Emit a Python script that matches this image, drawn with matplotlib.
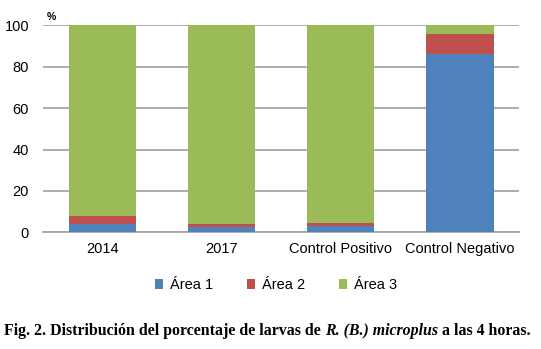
import numpy as np
import matplotlib.pyplot as plt

categories = ['2014', '2017', 'Control Positivo', 'Control Negativo']
area1 = [4.0, 2.6, 3.2, 85.9]
area2 = [4.0, 1.6, 1.5, 9.9]
area3 = [92.0, 95.8, 95.3, 4.2]
series_names = ['Área 1', 'Área 2', 'Área 3']
colors = ['#4F81BD', '#C0504D', '#9BBB59']

plt.rcParams['font.family'] = ['Liberation Sans', 'DejaVu Sans']

fig = plt.figure(figsize=(5.41, 3.49), dpi=100)
ax = fig.add_axes([0.0795, 0.334, 0.88, 0.594])

x = np.arange(len(categories))
bottom = np.zeros(len(categories))
for vals, name, c in zip([area1, area2, area3], series_names, colors):
    ax.bar(x, vals, 0.57, bottom=bottom, color=c, label=name, zorder=3)
    bottom += np.array(vals)

ax.set_xlim(-0.5, 3.5)
ax.set_ylim(0, 100)
ax.set_yticks(range(0, 101, 20))
ax.set_xticks(x)
ax.set_xticklabels(categories)
ax.tick_params(length=0, labelsize=10.5, colors='black')
ax.tick_params(axis='x', pad=7)
ax.tick_params(axis='y', pad=10)
ax.grid(axis='y', color='#A6A6A6', linewidth=1.3, zorder=0)
for s in ['top', 'right', 'left']:
    ax.spines[s].set_visible(False)
ax.spines['bottom'].set_color('#A6A6A6')
ax.spines['bottom'].set_linewidth(1.3)

fig.text(0.086, 0.943, '%', fontsize=7.5, fontweight='bold')

handles, labels = ax.get_legend_handles_labels()
fig.legend(handles, labels, loc='center', bbox_to_anchor=(0.51, 0.183), ncol=3,
           frameon=False, fontsize=10.5, handlelength=0.6, handleheight=0.6,
           handletextpad=0.45, columnspacing=2.3)

# caption with italic piece
cap_kw = dict(fontsize=11.45, fontweight='bold', family='Liberation Serif')
cx, cy = 0.008, 0.04
t1 = fig.text(cx, cy, 'Fig. 2. Distribución del porcentaje de larvas de ', va='baseline', **cap_kw)
t2 = fig.text(0, 0, 'R. (B.) microplus', style='italic', va='baseline', **cap_kw)
t3 = fig.text(0, 0, ' a las 4 horas.', va='baseline', **cap_kw)
fig.canvas.draw()
r = fig.canvas.get_renderer()
w1 = t1.get_window_extent(r).width / fig.bbox.width
t2.set_position((cx + w1, cy))
w2 = t2.get_window_extent(r).width / fig.bbox.width
t3.set_position((cx + w1 + w2, cy))

fig.savefig('out.png', dpi=100)
